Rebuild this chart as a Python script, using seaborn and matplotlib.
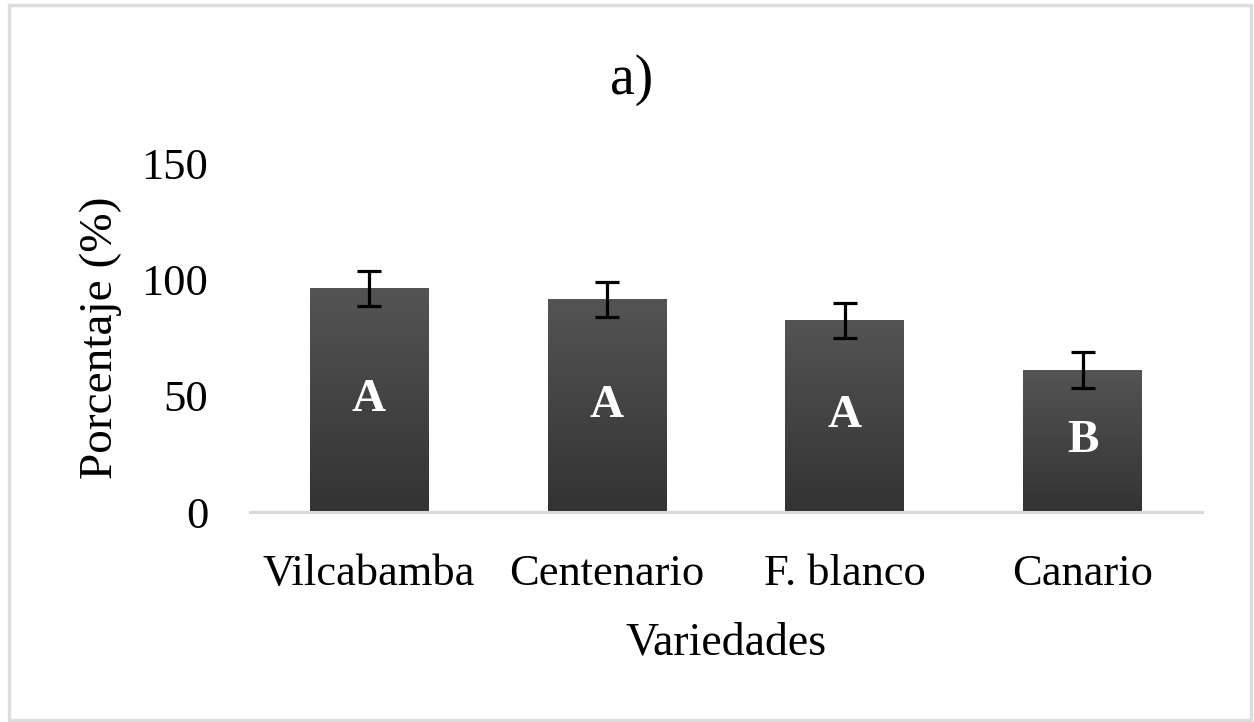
import numpy as np
import matplotlib
matplotlib.use("Agg")
import matplotlib.pyplot as plt
from matplotlib.patches import Rectangle
import seaborn as sns

categories = ["Vilcabamba", "Centenario", "F. blanco", "Canario"]
values = [96.2, 91.5, 82.5, 61.0]
errors = [7.5, 7.6, 7.6, 7.7]
letters = ["A", "A", "A", "B"]

sns.set_theme(style="white")
plt.rcParams["font.family"] = ["Liberation Serif", "DejaVu Serif"]
plt.rcParams["text.color"] = "black"
plt.rcParams["axes.labelcolor"] = "black"

fig = plt.figure(figsize=(12.54, 7.22), dpi=100)
ax = fig.add_axes([0.1994, 0.2902, 0.9585 - 0.1994, 0.7742 - 0.2902])

sns.barplot(x=categories, y=values, color="#444444", width=0.5, ax=ax,
            errorbar=None, saturation=1, edgecolor="none")

# gradient fill for bars
grad = np.linspace(0, 1, 256).reshape(-1, 1)
cmap = matplotlib.colors.LinearSegmentedColormap.from_list("g", ["#333333", "#545454"])
for p in ax.patches:
    x0, y0 = p.get_x(), p.get_y()
    w, h = p.get_width(), p.get_height()
    im = ax.imshow(grad, extent=[x0, x0 + w, y0, y0 + h], origin="lower",
                   cmap=cmap, aspect="auto", zorder=p.get_zorder() + 0.1)
    im.set_clip_path(p)

ax.errorbar(x=np.arange(len(categories)), y=values, yerr=errors, fmt="none",
            ecolor="black", elinewidth=2.3, capsize=8.3, capthick=2.3, zorder=5)

for i, (v, t) in enumerate(zip(values, letters)):
    ax.text(i, v / 2, t, ha="center", va="center", color="white",
            fontsize=34, fontweight="bold", zorder=6)

ax.set_xlim(-0.5, len(categories) - 0.5)
ax.set_ylim(0, 150)
ax.set_yticks([0, 50, 100, 150])
for s in ["top", "right", "left"]:
    ax.spines[s].set_visible(False)
ax.spines["bottom"].set_color("#d9d9d9")
ax.spines["bottom"].set_linewidth(2.2)
ax.tick_params(axis="both", length=0, labelsize=32, colors="black")
ax.tick_params(axis="y", pad=30)
ax.tick_params(axis="x", pad=30)
ax.set_xlabel("Variedades", fontsize=33, labelpad=20, color="black")
ax.set_ylabel("Porcentaje (%)", fontsize=34, labelpad=14, color="black")
ax.grid(False)

fig.text(0.504, 0.889, "a)", ha="center", va="center", fontsize=40, color="black")

fig.patches.append(Rectangle((0.0072, 0.0028), 0.9904, 0.9896, transform=fig.transFigure,
                             fill=False, edgecolor="#dddddd", linewidth=2.5))

fig.savefig("out.png", dpi=100, facecolor="white")
